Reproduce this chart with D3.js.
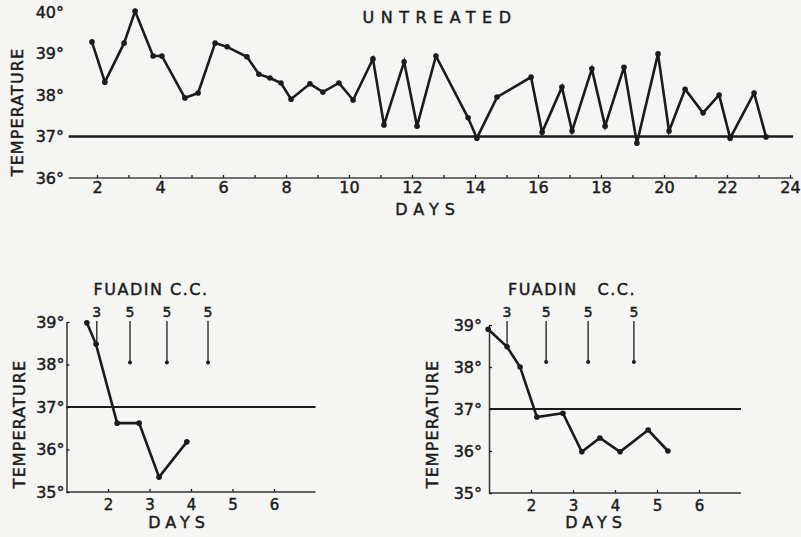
<!DOCTYPE html>
<html>
<head>
<meta charset="utf-8">
<title>Temperature charts</title>
<script src="https://d3js.org/d3.v7.min.js"></script>
<style>
  body { margin: 0; background: #f5f5f3; }
  svg { display: block; font-family: "DejaVu Sans", sans-serif; }
  svg text { stroke: #1b1b1b; stroke-width: 0.45px; }
</style>
</head>
<body>
<div id="chart"></div>
<script>
// untreated case
var topDays  = [1.84, 2.25, 2.86, 3.21, 3.78, 4.06, 4.79, 5.21, 5.75, 6.13, 6.76, 7.14, 7.49,
                7.84, 8.16, 8.76, 9.17, 9.68, 10.13, 10.76, 11.11, 11.75, 12.16, 12.76, 13.78,
                14.06, 14.70, 15.78, 16.13, 16.76, 17.08, 17.71, 18.13, 18.73, 19.14, 19.81,
                20.16, 20.67, 21.24, 21.75, 22.10, 22.86, 23.24];
var topTemps = [39.28, 38.31, 39.25, 40.02, 38.94, 38.94, 37.93, 38.05, 39.25, 39.16, 38.92, 38.50, 38.41,
                38.29, 37.90, 38.27, 38.07, 38.29, 37.88, 38.87, 37.28, 38.80, 37.25, 38.94, 37.45,
                36.96, 37.95, 38.43, 37.10, 38.19, 37.13, 38.63, 37.25, 38.67, 36.84, 38.99,
                37.13, 38.14, 37.57, 38.00, 36.96, 38.05, 36.99];
var topDayTicks = [2, 4, 6, 8, 10, 12, 14, 16, 18, 20, 22, 24];
var topMinorTicks = d3.range(2, 25);
var topTempTicks = [36, 37, 38, 39, 40];

// fuadin, first case
var leftDays  = [1.49, 1.71, 2.22, 2.75, 3.23, 3.90];
var leftTemps = [38.98, 38.48, 36.62, 36.62, 35.35, 36.18];
var leftDoseDays = [1.73, 2.53, 3.42, 4.41];
var leftDoseEnds = [38.48, 38.05, 38.05, 38.05];

// fuadin, second case
var rightDays  = [0.98, 1.43, 1.74, 2.14, 2.76, 3.21, 3.64, 4.12, 4.79, 5.26];
var rightTemps = [38.90, 38.48, 38.00, 36.81, 36.90, 35.98, 36.31, 35.98, 36.50, 36.00];
var rightDoseDays = [1.43, 2.36, 3.36, 4.45];
var rightDoseEnds = [38.48, 38.12, 38.12, 38.12];

var doseLabels = ["3", "5", "5", "5"];
var smallDayTicks = [2, 3, 4, 5, 6];
var smallTempTicks = [35, 36, 37, 38, 39];

var ink = "#1b1b1b";

var svg = d3.select("#chart").append("svg")
  .attr("width", 801)
  .attr("height", 537);

svg.append("rect").attr("width", 801).attr("height", 537).attr("fill", "#f5f5f3");

function deg(d) { return d + "\u00b0"; }

function drawLine(g, x, y, days, temps) {
  var pts = days.map(function(d, i) { return [d, temps[i]]; });
  var line = d3.line().x(function(d) { return x(d[0]); }).y(function(d) { return y(d[1]); });
  g.append("path")
    .datum(pts)
    .attr("d", line)
    .attr("fill", "none")
    .attr("stroke", ink)
    .attr("stroke-width", 2.6)
    .attr("stroke-linejoin", "miter");
  g.selectAll(".pt").data(pts).enter().append("circle")
    .attr("class", "pt")
    .attr("cx", function(d) { return x(d[0]); })
    .attr("cy", function(d) { return y(d[1]); })
    .attr("r", 2.8)
    .attr("fill", ink);
}

function styleAxis(g, size) {
  g.selectAll("text")
    .attr("fill", ink)
    .attr("font-size", size)
    .attr("font-family", "DejaVu Sans, sans-serif");
  g.selectAll("line").attr("stroke", ink).attr("stroke-width", 1.3);
}

function vertLabel(x, y, txt) {
  svg.append("text")
    .attr("transform", "translate(" + x + "," + y + ") rotate(-90)")
    .attr("text-anchor", "middle")
    .attr("font-size", 16)
    .attr("letter-spacing", 1.1)
    .attr("fill", ink)
    .text(txt);
}

// ---------- top chart: untreated ----------
var xT = d3.scaleLinear().domain([2, 24]).range([97, 790]);
var yT = d3.scaleLinear().domain([36, 40]).range([178, 12]);
var gT = svg.append("g");

gT.append("line")
  .attr("x1", xT(1.1)).attr("x2", xT(24.1))
  .attr("y1", yT(36)).attr("y2", yT(36))
  .attr("stroke", "#444").attr("stroke-width", 1.3);

gT.append("line")
  .attr("x1", xT(1.1)).attr("x2", xT(24.1))
  .attr("y1", yT(37)).attr("y2", yT(37))
  .attr("stroke", ink).attr("stroke-width", 2.3);

var axT = gT.append("g")
  .attr("transform", "translate(0," + yT(36) + ")")
  .call(d3.axisBottom(xT).tickValues(topMinorTicks).tickSize(-3).tickPadding(4)
    .tickFormat(function(d) { return topDayTicks.indexOf(d) >= 0 ? d : ""; }));
axT.select(".domain").remove();
styleAxis(axT, 16);

var ayT = gT.append("g")
  .attr("transform", "translate(66,0)")
  .call(d3.axisLeft(yT).tickValues(topTempTicks).tickSize(0).tickPadding(2).tickFormat(deg));
ayT.select(".domain").remove();
styleAxis(ayT, 16);

drawLine(gT, xT, yT, topDays, topTemps);

svg.append("text")
  .attr("x", 440).attr("y", 23)
  .attr("text-anchor", "middle")
  .attr("font-size", 16)
  .attr("letter-spacing", 6.5)
  .attr("fill", ink)
  .text("UNTREATED");

svg.append("text")
  .attr("x", 428).attr("y", 215)
  .attr("text-anchor", "middle")
  .attr("font-size", 16)
  .attr("letter-spacing", 6)
  .attr("fill", ink)
  .text("DAYS");

vertLabel(23, 112, "TEMPERATURE");

// ---------- bottom charts: fuadin ----------
function fuadinPanel(opt) {
  var x = d3.scaleLinear().domain([2, 6]).range(opt.xr);
  var y = d3.scaleLinear().domain([35, 39]).range(opt.yr);
  var g = svg.append("g");

  g.append("line")
    .attr("x1", x(1)).attr("x2", x(7))
    .attr("y1", y(37)).attr("y2", y(37))
    .attr("stroke", ink).attr("stroke-width", 2.1);

  var ax = g.append("g")
    .attr("transform", "translate(0," + y(35) + ")")
    .call(d3.axisBottom(x).tickValues(smallDayTicks).tickSize(-3).tickPadding(7)
      .tickFormat(d3.format("d")));
  ax.select(".domain").remove();
  styleAxis(ax, 15);
  g.append("line")
    .attr("x1", x(1)).attr("x2", x(7))
    .attr("y1", y(35)).attr("y2", y(35))
    .attr("stroke", "#333").attr("stroke-width", 1.5);

  var ay = g.append("g")
    .attr("transform", "translate(" + x(1) + ",0)")
    .call(d3.axisLeft(y).tickValues(smallTempTicks).tickSizeInner(-3).tickSizeOuter(0)
      .tickPadding(opt.pad).tickFormat(deg));
  ay.select(".domain").attr("stroke", "#333").attr("stroke-width", 1.5);
  styleAxis(ay, 16);

  // dose arrows
  opt.doseDays.forEach(function(d, i) {
    g.append("line")
      .attr("x1", x(d)).attr("x2", x(d))
      .attr("y1", 321).attr("y2", y(opt.doseEnds[i]))
      .attr("stroke", ink).attr("stroke-width", 1.3);
    g.append("circle")
      .attr("cx", x(d)).attr("cy", y(opt.doseEnds[i]))
      .attr("r", 2).attr("fill", ink);
    g.append("text")
      .attr("x", x(d)).attr("y", 317)
      .attr("text-anchor", "middle")
      .attr("font-size", 14)
      .attr("fill", ink)
      .text(doseLabels[i]);
  });

  g.append("text")
    .attr("x", opt.titleX).attr("y", 295)
    .attr("text-anchor", "middle")
    .attr("font-size", 16)
    .attr("letter-spacing", opt.titleSpacing)
    .attr("fill", ink)
    .attr("xml:space", "preserve")
    .text(opt.title);

  g.append("text")
    .attr("x", opt.daysX).attr("y", 528)
    .attr("text-anchor", "middle")
    .attr("font-size", 16)
    .attr("letter-spacing", 5)
    .attr("fill", ink)
    .text("DAYS");

  vertLabel(opt.tempX, 424, "TEMPERATURE");

  drawLine(g, x, y, opt.days, opt.temps);
}

fuadinPanel({
  xr: [108, 274], yr: [492, 322], pad: 2,
  days: leftDays, temps: leftTemps,
  doseDays: leftDoseDays, doseEnds: leftDoseEnds,
  title: "FUADIN C.C.", titleX: 151, titleSpacing: 1.5,
  daysX: 179, tempX: 25
});

fuadinPanel({
  xr: [531, 699], yr: [493, 325], pad: 7,
  days: rightDays, temps: rightTemps,
  doseDays: rightDoseDays, doseEnds: rightDoseEnds,
  title: "FUADIN   C.C.", titleX: 572, titleSpacing: 1.5,
  daysX: 596, tempX: 438
});
</script>
</body>
</html>
